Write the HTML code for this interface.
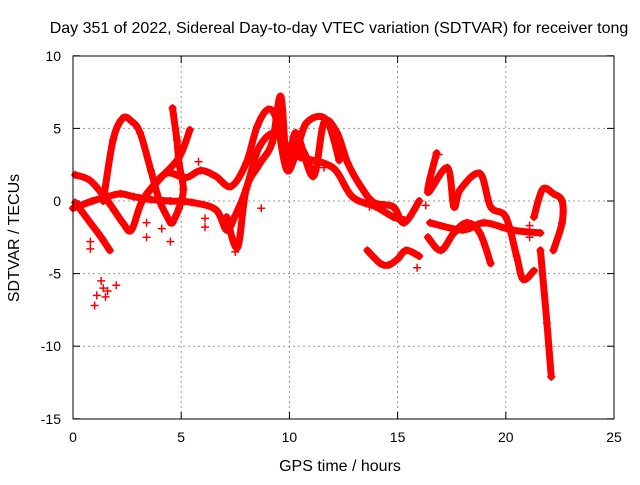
<!DOCTYPE html>
<html><head><meta charset="utf-8"><style>
body{margin:0;background:#fff}
svg text{font-family:"Liberation Sans",sans-serif;font-size:14px;fill:#000}
svg text.big{font-size:16px}
</style></head><body>
<svg id="c" width="640" height="480" xmlns="http://www.w3.org/2000/svg">
<rect width="640" height="480" fill="#fff"/>
<text class="big" x="339" y="33" text-anchor="middle">Day 351 of 2022, Sidereal Day-to-day VTEC variation (SDTVAR) for receiver tong</text>
<text class="big" x="340" y="471" text-anchor="middle">GPS time / hours</text>
<text class="big" transform="translate(19,238) rotate(-90)" text-anchor="middle">SDTVAR / TECUs</text>
<g id="grid"></g><g id="ticks"></g><g id="marks"></g>
<rect x="73" y="56" width="541" height="363" fill="none" stroke="#000" stroke-width="1"/>
</svg>
<script>
const xTicks=[0,5,10,15,20,25];
const yTicks=[10,5,0,-5,-10,-15];
const track1=[[1.4,0],[1.85,4.2],[2.3,5.7],[2.7,5.5],[3.1,4.7],[3.6,2.1],[4.0,0],[4.5,-1.5]];
const track2=[[0.1,1.8],[0.8,1.4],[1.6,0],[2.3,-1.5],[2.7,-2],[3.2,0],[4.0,1.5],[4.9,3],[5.4,4.9]];
const track3=[[0.1,-0.1],[0.8,-1.5],[1.3,-2.5],[1.7,-3.4]];
const track4=[[0,-0.5],[0.9,0],[1.6,0.3],[2.2,0.5],[2.8,0.3],[3.6,0.1],[4.5,0],[5.5,-0.1],[6.6,-0.6],[7.1,-2],[7.5,-1],[8,0.8],[8.6,3.7],[9.4,4.7],[10.2,3.3],[10.8,5.4],[11.7,5.6],[12.3,2.8]];
const track5=[[4.6,6.4],[4.8,4.2],[4.9,2.6],[5.1,0.8],[4.9,-0.5],[4.6,-1.5]];
const track6=[[3.4,0.5],[4.3,1.9],[5.2,1.6],[5.9,2.1],[6.6,1.7],[7.3,1.0],[8,2.6],[8.5,5.1],[9,6.3],[9.4,5.6],[9.9,2.1],[10.5,3.7],[11.1,1.7]];
const track7=[[7.1,-1.1],[7.6,-3.2],[8,0.8],[8.6,2.5],[9.2,4],[9.6,7.2],[9.9,2.3],[10.3,4.7],[11.1,1.7],[11.6,5.4],[12.2,4.7],[12.7,2.6],[13.3,1],[13.9,-0.1],[14.8,-0.4],[15.3,-1.5],[16,0]];
const track8=[[10.5,3],[12,2.3],[12.9,0.3],[14,-0.4],[14.8,-1.1],[15.3,-1.3]];
const track9=[[13.6,-3.4],[14.2,-4.3],[14.6,-4.4],[15.0,-4.0],[15.4,-3.4],[16,-3.8]];
const track10=[[16.8,3.3],[16.4,0.6],[17.3,2.3],[17.6,-0.4],[17.9,0.8],[18.8,1.9],[19.3,-0.4],[20,-1.1],[20.5,-3.8],[20.8,-5.4],[21.3,-4.8]];
const track11=[[16.4,-2.5],[17,-3.4],[17.6,-2.2],[18.2,-1.5],[18.8,-2.2],[19.3,-4.3]];
const track12=[[21.3,-1.1],[21.7,0.8],[22.2,0.5],[22.6,0],[22.6,-1.5],[22.2,-3.4]];
const track13=[[16.5,-1.5],[18,-2],[19,-1.5],[20.3,-2],[21.6,-2.2]];
const track14=[[21.6,-3.4],[21.9,-8.4],[22.1,-12.1]];
const cluster=[[1.0,-7.2],[1.1,-6.5],[1.3,-5.5],[1.4,-6],[1.5,-6.6],[1.6,-6.2],[2.0,-5.8],[0.8,-2.8],[0.8,-3.3],[3.4,-2.5],[3.4,-1.5],[4.5,-2.8],[4.1,-1.9],[6.1,-1.8],[6.1,-1.2],[7.5,-3.5],[7.5,-2.8],[5.8,2.7],[8.7,-0.5],[11.6,2.3],[13.7,-0.4],[15.9,-4.6],[16.9,3.2],[21.1,-1.7],[21.1,-2.5],[16.3,-0.3]];
const tracks=[track1,track2,track3,track4,track5,track6,track7,track8,track9,track10,track11,track12,track13,track14];
const X=t=>73+t*541/25, Y=v=>201-v*14.52;
const NS='http://www.w3.org/2000/svg';
function mk(tag,attrs,parent){const e=document.createElementNS(NS,tag);for(const k in attrs)e.setAttribute(k,attrs[k]);parent.appendChild(e);return e;}
const grid=document.getElementById('grid'),ticks=document.getElementById('ticks'),marks=document.getElementById('marks');
xTicks.forEach(t=>{
  if(t>0&&t<25){const g=mk('line',{x1:X(t),x2:X(t),y1:56,y2:419,stroke:'#999','stroke-dasharray':'2,3'},grid);
  
  }
  mk('line',{x1:X(t),x2:X(t),y1:419,y2:412,stroke:'#000'},ticks);
  mk('line',{x1:X(t),x2:X(t),y1:56,y2:63,stroke:'#000'},ticks);
  const l=mk('text',{x:X(t),y:442,'text-anchor':'middle'},ticks);l.textContent=t;
  
  
});
yTicks.forEach(v=>{
  if(v<10&&v>-15){const g=mk('line',{x1:73,x2:614,y1:Y(v),y2:Y(v),stroke:'#999','stroke-dasharray':'2,3'},grid);
  
  }
  mk('line',{x1:73,x2:80,y1:Y(v),y2:Y(v),stroke:'#000'},ticks);
  mk('line',{x1:614,x2:607,y1:Y(v),y2:Y(v),stroke:'#000'},ticks);
  const l=mk('text',{x:61,y:Y(v)+5,'text-anchor':'end'},ticks);l.textContent=v;
  
  
});
function plus(t,v){const p=mk('path',{d:`M${X(t)-4},${Y(v)}h8M${X(t)},${Y(v)-4}v8`,stroke:'#f00','stroke-width':1.5},marks);
  
  }
function smooth(tr){
  const P=tr.map(p=>[X(p[0]),Y(p[1])]);
  let d=`M${P[0][0]},${P[0][1]}`;
  for(let i=0;i<P.length-1;i++){
    const p0=P[i-1]||P[i],p1=P[i],p2=P[i+1],p3=P[i+2]||P[i+1];
    const c1=[p1[0]+(p2[0]-p0[0])/6,p1[1]+(p2[1]-p0[1])/6];
    const c2=[p2[0]-(p3[0]-p1[0])/6,p2[1]-(p3[1]-p1[1])/6];
    d+=`C${c1[0]},${c1[1]} ${c2[0]},${c2[1]} ${p2[0]},${p2[1]}`;
  }
  return d;
}
tracks.forEach(tr=>{
  const pl=mk('path',{d:smooth(tr),fill:'none',stroke:'#f00','stroke-width':7,'stroke-linejoin':'round','stroke-linecap':'round'},marks);
  
  
  tr.forEach(p=>plus(p[0],p[1]));
});
cluster.forEach(p=>plus(p[0],p[1]));
</script>
</body></html>
